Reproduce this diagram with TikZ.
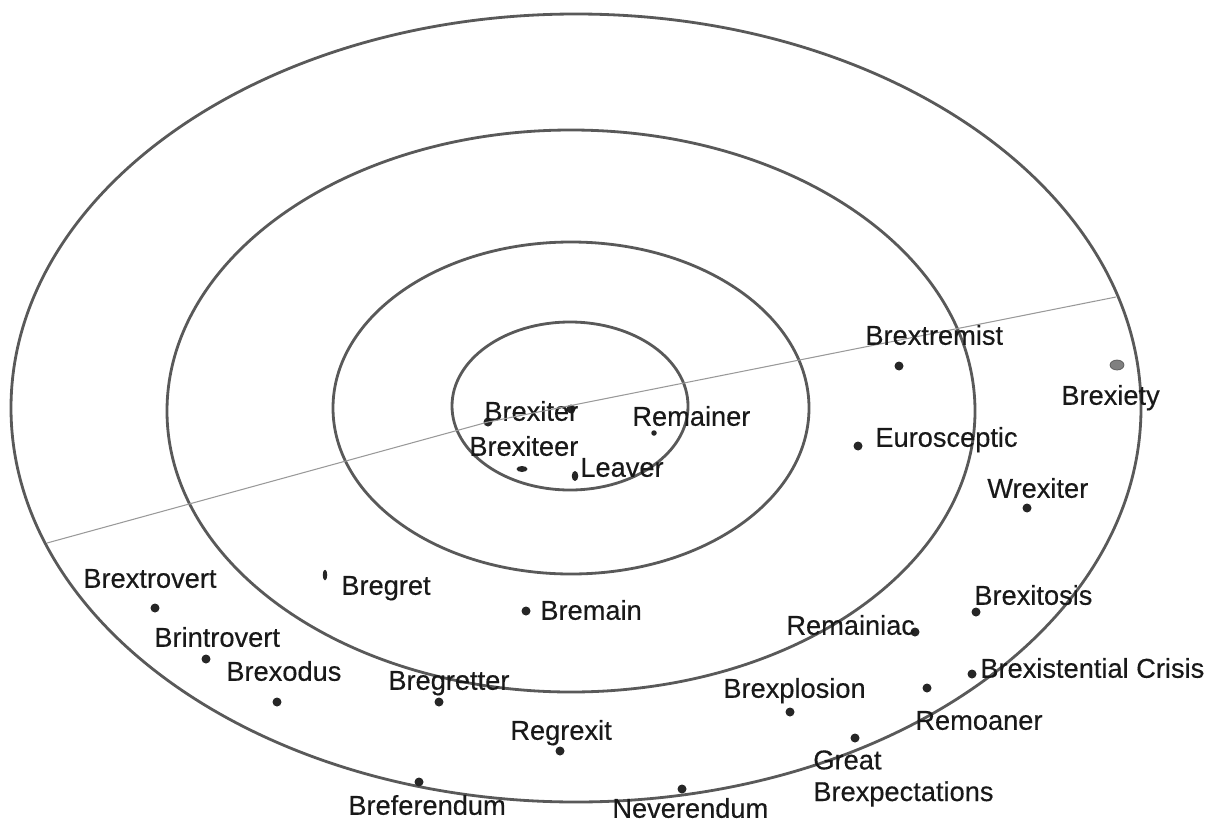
\documentclass[tikz,border=0pt]{standalone}
\usepackage{fontspec}
\setmainfont{Liberation Sans}
\newfontfamily\lblfont{Liberation Sans}[FakeBold=0.4]
\usetikzlibrary{positioning,shapes.geometric}

\begin{document}
\begin{tikzpicture}[
    x=0.02cm, y=-0.02cm,
    ring/.style={draw=black!65, line width=1.6pt},
    divider/.style={draw=black!40, line width=0.6pt},
    dot/.style={circle, fill=black!85, inner sep=0pt, minimum size=0.18cm},
    odot/.style={ellipse, fill=black!85, inner sep=0pt},
    lbl/.style={font=\lblfont\fontsize{15.5}{18}\selectfont, inner sep=0pt, text=black!90},
    word/.style={lbl, anchor=west, text height=11.1pt, text depth=0pt},
]
\useasboundingbox (0,0) rectangle (1209,821);

% rings, outer to inner
\draw[ring] (576,408) ellipse [x radius=565, y radius=394];
\draw[ring] (571,411) ellipse [x radius=404, y radius=281];
\draw[ring] (571,408) ellipse [x radius=238, y radius=166];
\draw[ring] (570,406) ellipse [x radius=118, y radius=84];

% inner ring
\node[dot] (kink) at (488,422) {};
\node[dot] (brexiter) at (571,409) {};
\node[odot, minimum width=0.22cm, minimum height=0.12cm] (brexiteer) at (522,469) {};
\node[odot, minimum width=0.13cm, minimum height=0.2cm] (leaver) at (575,476) {};
\node[dot, minimum size=0.11cm] (remainer) at (654,433) {};

\node[word] (brexitertxt) at (484,411) {Brexiter};
\node[word] (brexiteertxt) at (469,446) {Brexiteer};
\node[word] (leavertxt) at (580,467) {Leaver};
\node[word] (remainertxt) at (632,416) {Remainer};

% divider through the Brexiter point
\coordinate (divw) at (47,543);
\coordinate (dive) at (1116,297);
\draw[divider] (divw) -- (kink.center) -- (dive);

% right side
\node[dot] (brextremist) at (899,366) {};
\node[dot] (eurosceptic) at (858,446) {};
\node[ellipse, fill=black!50, draw=black!65, inner sep=0pt, minimum width=0.28cm, minimum height=0.2cm] (brexiety) at (1117,365) {};
\node[dot] (wrexiter) at (1027,508) {};
\node[dot] (brexitosis) at (976,612) {};
\node[dot] (remainiac) at (915,632) {};
\node[dot] (brexistential) at (972,674) {};
\node[dot] (remoaner) at (927,688) {};
\node[dot] (brexplosion) at (790,712) {};
\node[dot] (greatbrex) at (855,738) {};
\node[dot] (neverendum) at (682,789) {};

\node[word] (brextremisttxt) at (865,335) {Brextremist};
\node[word] (euroscepticttxt) at (875,437) {Eurosceptic};
\node[word] (brexietytxt) at (1061,395) {Brexiety};
\node[word] (wrexitertxt) at (987,488) {Wrexiter};
\node[word] (brexitosistxt) at (974,595) {Brexitosis};
\node[word] (remainiactxt) at (786,625) {Remainiac};
\node[word] (brexistentialtxt) at (980,668) {Brexistential Crisis};
\node[word] (remoanertxt) at (915,720) {Remoaner};
\node[word] (brexplosiontxt) at (723,688) {Brexplosion};
\node[lbl, align=left, anchor=north west] (greatbrextxt) at (813,750) {Great\\Brexpectations};
\node[word] (neverendumtxt) at (612,808) {Neverendum};

% left side
\node[dot] (regrexit) at (560,751) {};
\node[dot] (breferendum) at (419,782) {};
\node[dot] (bregretter) at (439,702) {};
\node[dot] (bremain) at (526,611) {};
\node[odot, minimum width=0.09cm, minimum height=0.21cm] (bregret) at (325,575) {};
\node[dot] (brextrovert) at (155,608) {};
\node[dot] (brintrovert) at (206,659) {};
\node[dot] (brexodus) at (277,702) {};

\node[word] (regrexittxt) at (510,730) {Regrexit};
\node[word] (breferendumtxt) at (348,805) {Breferendum};
\node[word] (bregrettertxt) at (388,680) {Bregretter};
\node[word] (bremaintxt) at (540,610) {Bremain};
\node[word] (bregrettxt) at (341,585) {Bregret};
\node[word] (brextroverttxt) at (83,578) {Brextrovert};
\node[word] (brintroverttxt) at (154,637) {Brintrovert};
\node[word] (brexodustxt) at (226,671) {Brexodus};
\end{tikzpicture}
\end{document}
